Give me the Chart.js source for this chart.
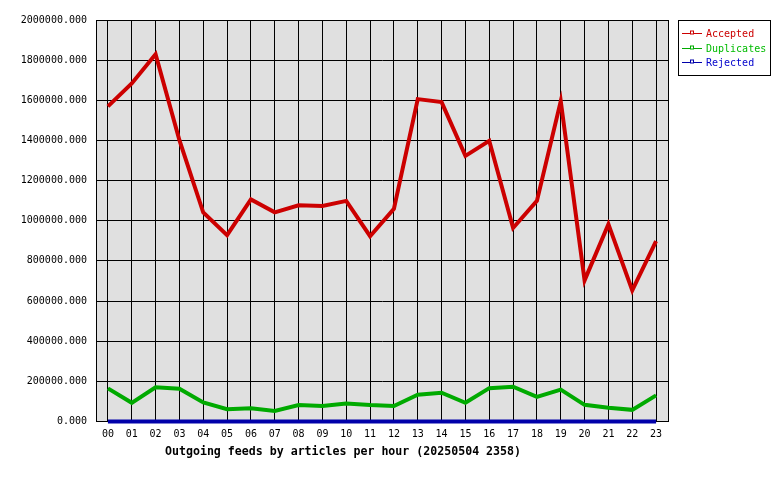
<!DOCTYPE html>
<html lang="en">
<head>
    <meta charset="UTF-8">
    <title>Outgoing feeds by articles per hour</title>
    <script src="https://cdn.jsdelivr.net/npm/chart.js@4.4.1/dist/chart.umd.min.js"></script>
    <style>
        html, body { margin: 0; padding: 0; background: #fff; }
        #wrap { width: 780px; height: 480px; position: relative; }
    </style>
</head>
<body>
    <div id="wrap"><canvas id="chart_area"></canvas></div>
    <script>
        // hours of the day
        const hours = ['00','01','02','03','04','05','06','07','08','09','10','11',
                       '12','13','14','15','16','17','18','19','20','21','22','23'];

        const accepted = [1570000, 1684000, 1829000, 1401000, 1041000, 928000, 1106000, 1042000,
                          1077000, 1074000, 1099000, 923000, 1059000, 1606000, 1591000, 1323000,
                          1398000, 964000, 1099000, 1596000, 703000, 983000, 653000, 898000];

        const duplicates = [165000, 93000, 170000, 163000, 95000, 61000, 66000, 52000,
                            82000, 77000, 90000, 82000, 77000, 133000, 143000, 93000,
                            166000, 173000, 123000, 159000, 83000, 68000, 58000, 130000];

        const rejected = [0, 0, 0, 0, 0, 0, 0, 0, 0, 0, 0, 0,
                          0, 0, 0, 0, 0, 0, 0, 0, 0, 0, 0, 0];

        const series_names = ['Accepted', 'Duplicates', 'Rejected'];
        const line_colors = ['#cc0000', '#00aa00', '#0000aa'];
        const text_colors = ['#cc0000', '#00bb00', '#0000cc'];

        const mono = '"DejaVu Sans Mono", "Liberation Mono", monospace';

        // grey plot background + black frame
        const plotFrame = {
            id: 'plotFrame',
            beforeDraw(chart) {
                const a = chart.chartArea, ctx = chart.ctx;
                ctx.save();
                ctx.fillStyle = '#e0e0e0';
                ctx.fillRect(a.left, a.top, a.right - a.left, a.bottom - a.top);
                ctx.restore();
            },
            beforeDatasetsDraw(chart) {
                const a = chart.chartArea, ctx = chart.ctx;
                ctx.save();
                ctx.strokeStyle = '#000';
                ctx.lineWidth = 1;
                ctx.strokeRect(Math.round(a.left) + 0.5, Math.round(a.top) + 0.5,
                               Math.round(a.right - a.left), Math.round(a.bottom - a.top));
                ctx.restore();
            }
        };

        // boxed legend at the top right, outside the plot
        const boxLegend = {
            id: 'boxLegend',
            afterDraw(chart) {
                const ctx = chart.ctx;
                ctx.save();
                ctx.fillStyle = '#fff';
                ctx.fillRect(678.5, 20.5, 92, 55);
                ctx.strokeStyle = '#000';
                ctx.lineWidth = 1;
                ctx.strokeRect(678.5, 20.5, 92, 55);
                ctx.font = '10px ' + mono;
                ctx.textBaseline = 'middle';
                ctx.textAlign = 'left';
                for (let i = 0; i < series_names.length; i++) {
                    const y = Math.round(33 + i * 14.7) + 0.5;
                    ctx.strokeStyle = line_colors[i];
                    ctx.beginPath();
                    ctx.moveTo(682, y);
                    ctx.lineTo(702, y);
                    ctx.stroke();
                    ctx.fillStyle = '#fff';
                    ctx.fillRect(690, y - 2, 3, 3);
                    ctx.strokeRect(690.5, y - 2.5, 3, 3);
                    ctx.fillStyle = text_colors[i];
                    ctx.fillText(series_names[i], 706, y + 0.5);
                }
                ctx.restore();
            }
        };

        const datasets = [accepted, duplicates, rejected].map((d, i) => ({
            label: series_names[i],
            data: d,
            borderColor: line_colors[i],
            backgroundColor: line_colors[i],
            borderWidth: 4,
            pointRadius: 0,
            tension: 0,
            fill: false,
            clip: false,
            order: i
        }));

        const config = {
            type: 'line',
            data: { labels: hours, datasets: datasets },
            options: {
                responsive: false,
                animation: false,
                devicePixelRatio: 1,
                layout: { padding: { left: 18, right: 112, top: 20, bottom: 0 } },
                plugins: {
                    legend: { display: false },
                    tooltip: { enabled: false },
                    title: {
                        display: true,
                        position: 'bottom',
                        text: 'Outgoing feeds by articles per hour (20250504 2358)',
                        color: '#000',
                        font: { family: mono, size: 11.6, weight: 'bold', lineHeight: 1.2 },
                        padding: { top: 0, bottom: 20.6 }
                    }
                },
                scales: {
                    x: {
                        type: 'category',
                        offset: true,
                        grid: { offset: false, color: '#000', lineWidth: 1, drawTicks: false },
                        border: { color: '#000' },
                        ticks: {
                            color: '#000', padding: 7, maxRotation: 0, autoSkip: false,
                            font: { family: mono, size: 10 }
                        },
                        afterFit(s) { s.height = 24; }
                    },
                    y: {
                        min: 0,
                        max: 2000000,
                        grid: { color: '#000', lineWidth: 1, drawTicks: false },
                        border: { color: '#000' },
                        ticks: {
                            stepSize: 200000, color: '#000', padding: 9,
                            font: { family: mono, size: 10 },
                            callback: v => v.toFixed(3)
                        },
                        afterFit(s) { s.width = 78; }
                    }
                }
            },
            plugins: [plotFrame, boxLegend]
        };

        const canvas = document.getElementById('chart_area');
        canvas.width = 780;
        canvas.height = 480;
        window.feedChart = new Chart(canvas.getContext('2d'), config);
    </script>
</body>
</html>
